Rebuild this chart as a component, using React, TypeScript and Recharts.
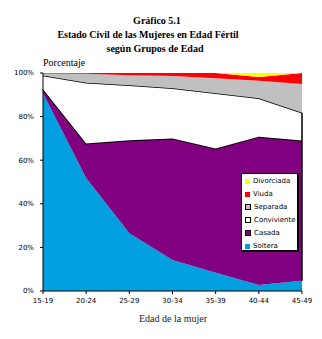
import { AreaChart, Area, XAxis, YAxis, ReferenceLine } from 'recharts'

const grupos = ['15-19', '20-24', '25-29', '30-34', '35-39', '40-44', '45-49']
const soltera = [90.7, 51.8, 26.5, 14.2, 8.4, 2.8, 4.7]
const casada = [1.9, 15.9, 42.7, 55.8, 57.0, 68.0, 64.3]
const conviviente = [6.2, 27.8, 25.2, 23.0, 25.3, 17.6, 12.8]
const separada = [1.0, 4.1, 4.6, 5.6, 6.9, 8.0, 13.2]
const viuda = [0.2, 0.4, 1.0, 1.4, 2.4, 1.8, 5.0]
const divorciada = [0, 0, 0, 0, 0, 1.8, 0]
const yTicks = [0, 20, 40, 60, 80, 100]

const data = grupos.map((g, i) => ({
  grupo: g,
  soltera: soltera[i],
  casada: casada[i],
  conviviente: conviviente[i],
  separada: separada[i],
  viuda: viuda[i],
  divorciada: divorciada[i],
}))

const last = grupos.length - 1

const legendItems = [
  { name: 'Divorciada', color: '#FFFF00', border: false },
  { name: 'Viuda', color: '#FF0000', border: false },
  { name: 'Separada', color: '#C0C0C0', border: true },
  { name: 'Conviviente', color: '#FFFFFF', border: true },
  { name: 'Casada', color: '#800080', border: true },
  { name: 'Soltera', color: '#00A0E0', border: false },
]

const tickFont = { fontSize: 7, fontFamily: 'DejaVu Sans', fill: '#000' }
const serif = '"Liberation Serif", "Times New Roman", serif'

export default function App() {
  return (
    <div style={{ position: 'absolute', left: 0, top: 0, width: 322, height: 339, background: '#fff' }}>
      <div style={{ position: 'absolute', left: 0, width: 314, top: 14, textAlign: 'center', fontFamily: serif, fontWeight: 'bold', fontSize: 10, lineHeight: '14px' }}>
        Gráfico 5.1
      </div>
      <div style={{ position: 'absolute', left: 0, width: 296, top: 28, textAlign: 'center', fontFamily: serif, fontWeight: 'bold', fontSize: 10, lineHeight: '14px' }}>
        Estado Civil de las Mujeres en Edad Fértil
      </div>
      <div style={{ position: 'absolute', left: 0, width: 310, top: 42, textAlign: 'center', fontFamily: serif, fontWeight: 'bold', fontSize: 10, lineHeight: '14px' }}>
        según Grupos de Edad
      </div>
      <div style={{ position: 'absolute', left: 43, top: 57, fontFamily: serif, fontSize: 10, lineHeight: '12px' }}>
        Porcentaje
      </div>

      <AreaChart
        width={322}
        height={339}
        data={data}
        margin={{ top: 73, right: 20, left: 8, bottom: 28 }}
      >
        <XAxis
          dataKey="grupo"
          height={20}
          stroke="#000"
          tick={tickFont}
          tickSize={3}
          tickMargin={4}
          interval={0}
        />
        <YAxis
          width={35}
          domain={[0, 100]}
          ticks={yTicks}
          tickFormatter={(v) => `${v}%`}
          stroke="#000"
          tick={tickFont}
          tickSize={3}
          tickMargin={6}
          allowDataOverflow
        />
        <Area type="linear" dataKey="soltera" stackId="1" fill="#00A0E0" fillOpacity={1} stroke="none" isAnimationActive={false} />
        <Area type="linear" dataKey="casada" stackId="1" fill="#800080" fillOpacity={1} stroke="#000" strokeWidth={2} isAnimationActive={false} />
        <Area type="linear" dataKey="conviviente" stackId="1" fill="#FFFFFF" fillOpacity={1} stroke="#000" strokeWidth={1.5} isAnimationActive={false} />
        <Area type="linear" dataKey="separada" stackId="1" fill="#C0C0C0" fillOpacity={1} stroke="none" isAnimationActive={false} />
        <Area type="linear" dataKey="viuda" stackId="1" fill="#FF0000" fillOpacity={1} stroke="none" isAnimationActive={false} />
        <Area type="linear" dataKey="divorciada" stackId="1" fill="#FFFF00" fillOpacity={1} stroke="none" isAnimationActive={false} />
        <ReferenceLine
          segment={[
            { x: grupos[last], y: soltera[last] },
            { x: grupos[last], y: soltera[last] + casada[last] + conviviente[last] },
          ]}
          stroke="#000"
          strokeWidth={1.5}
        />
      </AreaChart>

      <div
        style={{
          position: 'absolute',
          left: 241,
          top: 173,
          width: 55,
          height: 76,
          background: '#fff',
          borderStyle: 'solid',
          borderColor: '#000',
          borderWidth: '1px 2px 2px 1px',
        }}
      >
        {legendItems.map((it, i) => (
          <div key={it.name} style={{ position: 'absolute', left: 3, top: 2 + i * 13, height: 10, display: 'flex', alignItems: 'center' }}>
            <div
              style={{
                width: it.border ? 4 : 5,
                height: it.border ? 4 : 5,
                background: it.color,
                border: it.border ? '1px solid #000' : 'none',
                marginRight: 3,
              }}
            />
            <span style={{ fontFamily: 'DejaVu Sans', fontSize: 7, lineHeight: '10px', color: '#000' }}>{it.name}</span>
          </div>
        ))}
      </div>

      <div style={{ position: 'absolute', left: 0, width: 346, top: 313, textAlign: 'center', fontFamily: serif, fontSize: 10, lineHeight: '12px', color: '#222' }}>
        Edad de la mujer
      </div>
    </div>
  )
}
